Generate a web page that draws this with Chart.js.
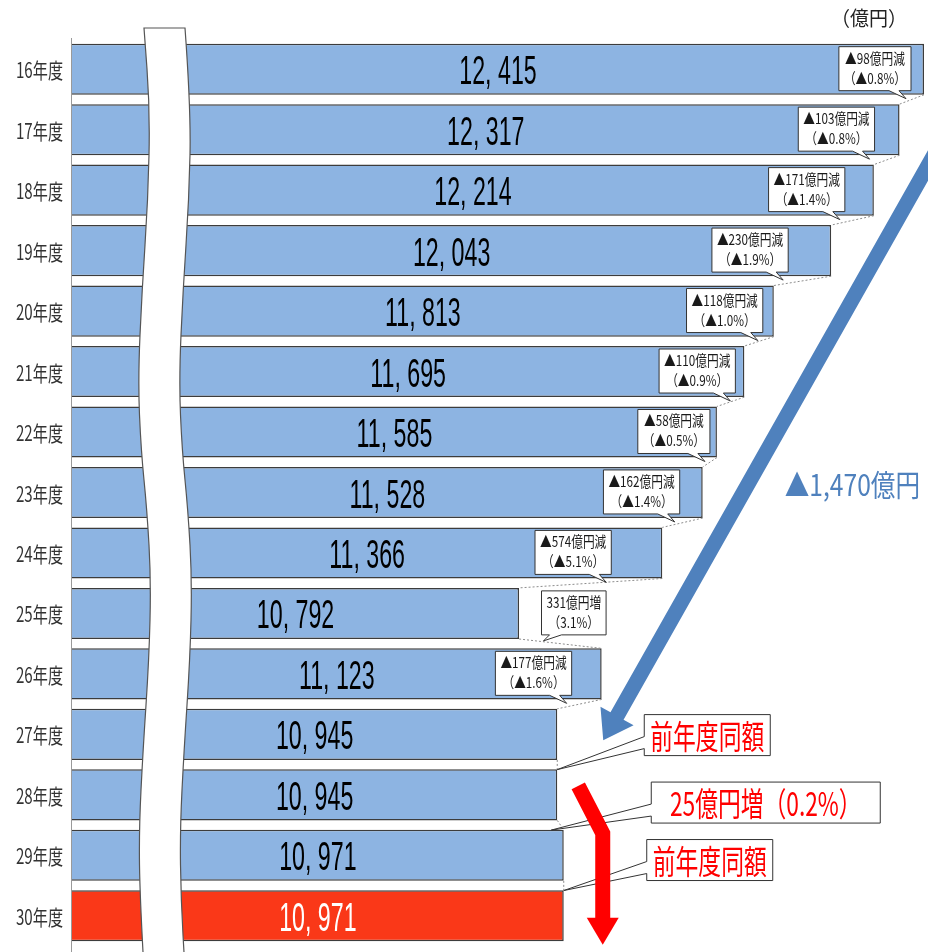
<!DOCTYPE html>
<html>
<head>
<meta charset="utf-8">
<script src="https://cdn.jsdelivr.net/npm/chart.js@4.4.1/dist/chart.umd.min.js"></script>
<style>
html, body { margin: 0; padding: 0; background: #fff; }
#wrap { width: 928px; height: 952px; }
</style>
</head>
<body>
<div id="wrap"><canvas id="budget-chart" width="928" height="952"></canvas></div>
<script>
// data (億円)
var years = ['16年度', '17年度', '18年度', '19年度', '20年度', '21年度', '22年度', '23年度',
             '24年度', '25年度', '26年度', '27年度', '28年度', '29年度', '30年度'];
var budget = [12415, 12317, 12214, 12043, 11813, 11695, 11585, 11528,
              11366, 10792, 11123, 10945, 10945, 10971, 10971];
// change to the following year, shown in the small callouts
var diffAmount = [-98, -103, -171, -230, -118, -110, -58, -162, -574, 331, -177];
var diffPercent = [-0.8, -0.8, -1.4, -1.9, -1.0, -0.9, -0.5, -1.4, -5.1, 3.1, -1.6];
var recentNotes = ['前年度同額', '25億円増（0.2%）', '前年度同額'];
var totalDrop = -1470;
var unitLabel = '（億円）';

// layout only: callout box right inset from bar end, red note box [dx, dy, width]
var boxInset = [13, 25, 29, 43, 11, 9, 7, 23, 51, -87, 30];
var noteLayout = [[87, -50, 126], [94, -43, 229], [83, -46, 126]];

var JP = '"Noto Sans CJK JP", "Noto Sans", sans-serif';
var BLUE = '#8db4e2';
var RED = '#fa3818';

function squeezeText(ctx, text, x, y, font, color, sx, align, baseline) {
    ctx.save();
    ctx.font = font;
    ctx.fillStyle = color;
    ctx.textAlign = align || 'center';
    ctx.textBaseline = baseline || 'alphabetic';
    ctx.translate(x, y);
    ctx.scale(sx, 1);
    ctx.fillText(text, 0, 0);
    ctx.restore();
}

function textWidth(ctx, text, font) {
    ctx.save();
    ctx.font = font;
    var w = ctx.measureText(text).width;
    ctx.restore();
    return w;
}

function fmtValue(v) {
    var s = String(Math.abs(v));
    return s.slice(0, -3) + ', ' + s.slice(-3);
}

function fatArrow(ctx, x0, y0, x1, y1, shaft, headW, headL, color) {
    var dx = x1 - x0, dy = y1 - y0;
    var len = Math.sqrt(dx * dx + dy * dy);
    var ux = dx / len, uy = dy / len;
    var nx = -uy, ny = ux;
    var bx = x1 - ux * headL, by = y1 - uy * headL;
    ctx.save();
    ctx.fillStyle = color;
    ctx.beginPath();
    ctx.moveTo(x0 + nx * shaft / 2, y0 + ny * shaft / 2);
    ctx.lineTo(bx + nx * shaft / 2, by + ny * shaft / 2);
    ctx.lineTo(bx + nx * headW / 2, by + ny * headW / 2);
    ctx.lineTo(x1, y1);
    ctx.lineTo(bx - nx * headW / 2, by - ny * headW / 2);
    ctx.lineTo(bx - nx * shaft / 2, by - ny * shaft / 2);
    ctx.lineTo(x0 - nx * shaft / 2, y0 - ny * shaft / 2);
    ctx.closePath();
    ctx.fill();
    ctx.restore();
}

function smoothEdge(ctx, pts, first) {
    if (first) ctx.moveTo(pts[0][0], pts[0][1]); else ctx.lineTo(pts[0][0], pts[0][1]);
    for (var i = 1; i < pts.length - 1; i++) {
        var mx = (pts[i][0] + pts[i + 1][0]) / 2, my = (pts[i][1] + pts[i + 1][1]) / 2;
        ctx.quadraticCurveTo(pts[i][0], pts[i][1], mx, my);
    }
    ctx.lineTo(pts[pts.length - 1][0], pts[pts.length - 1][1]);
}

var chartLayer = {
    id: 'chartLayer',
    afterDatasetsDraw: function (chart) {
        var ctx = chart.ctx;
        var area = chart.chartArea;
        var bars = chart.getDatasetMeta(0).data;
        var n = bars.length;
        function top(i) { return bars[i].y - bars[i].height / 2; }
        function bottom(i) { return bars[i].y + bars[i].height / 2; }

        // axis line
        ctx.save();
        ctx.strokeStyle = '#9a9a9a';
        ctx.lineWidth = 1;
        ctx.beginPath();
        ctx.moveTo(area.left - 0.5, area.top - 1);
        ctx.lineTo(area.left - 0.5, chart.height);
        ctx.stroke();
        ctx.restore();

        // dotted connectors between bar ends
        ctx.save();
        ctx.strokeStyle = '#8c8c8c';
        ctx.lineWidth = 1;
        ctx.setLineDash([2, 2]);
        for (var i = 0; i < n - 1; i++) {
            ctx.beginPath();
            ctx.moveTo(bars[i].x, bottom(i));
            ctx.lineTo(bars[i + 1].x, top(i + 1));
            ctx.stroke();
        }
        ctx.restore();

        // axis break strip
        var sx = area.left + 72;
        var leftEdge = [[0, 28], [6, 110], [4, 200], [-2, 290], [-6, 380], [-3, 450], [3, 510],
                        [7, 580], [5, 660], [-1, 750], [-5, 830], [-4, 900], [0, 970]];
        var lp = leftEdge.map(function (p) { return [sx + p[0], p[1]]; });
        var rp = leftEdge.map(function (p) { return [sx + p[0] + 41, p[1]]; });
        ctx.save();
        ctx.beginPath();
        smoothEdge(ctx, lp.slice().reverse(), true);
        smoothEdge(ctx, rp, false);
        ctx.closePath();
        ctx.fillStyle = '#fff';
        ctx.fill();
        ctx.strokeStyle = '#555';
        ctx.lineWidth = 1.2;
        ctx.stroke();
        ctx.restore();

        // values inside bars
        for (var i = 0; i < n; i++) {
            squeezeText(ctx, fmtValue(budget[i]), (area.left + bars[i].x) / 2, bars[i].y + 15,
                '40px "Liberation Sans", Arial, sans-serif', i === n - 1 ? '#fff' : '#000', 0.58, 'center');
        }

        // year labels
        for (var i = 0; i < n; i++) {
            squeezeText(ctx, years[i], area.left - 9, bars[i].y + 9, '21px ' + JP, '#333', 0.72, 'right');
        }

        // small change callouts
        var cf = '15px ' + JP, cs = 0.78;
        for (var i = 0; i < diffAmount.length; i++) {
            var amt = diffAmount[i], pct = diffPercent[i];
            var l1 = (amt < 0 ? '▲' : '') + Math.abs(amt) + '億円' + (amt < 0 ? '減' : '増');
            var l2 = '（' + (pct < 0 ? '▲' : '') + Math.abs(pct).toFixed(1) + '%）';
            var w = Math.max(textWidth(ctx, l1, cf), textWidth(ctx, l2, cf)) * cs + 10;
            var r = bars[i].x - boxInset[i], l = r - w;
            var t = top(i) + 3, b = t + 44;
            ctx.save();
            ctx.beginPath();
            ctx.moveTo(l, t);
            ctx.lineTo(r, t);
            ctx.lineTo(r, b);
            if (boxInset[i] >= 0) {
                ctx.lineTo(r - 12, b);
                ctx.lineTo(r - 5, b + 8);
                ctx.lineTo(r - 22, b);
                ctx.lineTo(l, b);
            } else {
                ctx.lineTo(l + 20, b);
                ctx.lineTo(l + 2, b + 6);
                ctx.lineTo(l + 8, b);
                ctx.lineTo(l, b);
            }
            ctx.closePath();
            ctx.fillStyle = '#fff';
            ctx.fill();
            ctx.strokeStyle = '#333';
            ctx.lineWidth = 1;
            ctx.stroke();
            ctx.restore();
            squeezeText(ctx, l1, (l + r) / 2, t + 17, cf, '#1a1a1a', cs, 'center');
            squeezeText(ctx, l2, (l + r) / 2, t + 37, cf, '#1a1a1a', cs, 'center');
        }

        // blue overall arrow
        var tipX = bars[11].x + 46, tipY = bars[11].y + 6;
        fatArrow(ctx, area.right + 14, bars[1].y + 18, tipX, tipY, 15, 38, 28, '#4f81bd');
        squeezeText(ctx, '▲' + Math.abs(totalDrop).toLocaleString('en-US') + '億円', area.right - 4,
            bars[7].y + 3, '30px ' + JP, '#4f81bd', 0.82, 'right');

        // red notes for the last years
        for (var k = 0; k < recentNotes.length; k++) {
            var i = 11 + k;
            var mid = (bottom(i) + top(i + 1)) / 2;
            var px = bars[i].x - (k === 1 ? 6 : 0), py = mid + 5;
            var bl = bars[i].x + noteLayout[k][0], bt = mid + noteLayout[k][1];
            var bw = noteLayout[k][2], bh = 41;
            ctx.save();
            ctx.beginPath();
            ctx.moveTo(bl, bt);
            ctx.lineTo(bl + bw, bt);
            ctx.lineTo(bl + bw, bt + bh);
            ctx.lineTo(bl, bt + bh);
            ctx.lineTo(bl, bt + 34);
            ctx.lineTo(px, py);
            ctx.lineTo(bl, bt + 22);
            ctx.closePath();
            ctx.fillStyle = '#fff';
            ctx.fill();
            ctx.strokeStyle = '#333';
            ctx.lineWidth = 1;
            ctx.stroke();
            ctx.restore();
            squeezeText(ctx, recentNotes[k], bl + bw / 2, bt + bh / 2 + 1, '33px ' + JP, '#ff0000', 0.69, 'center', 'middle');
        }

        // red downward arrow
        var ax = bars[13].x + 39;
        var a0x = bars[11].x + 21, a0y = bars[12].y - 9;
        var bendY = bars[13].y - 22, headY = bars[14].y + 2, endY = bars[14].y + 29;
        ctx.save();
        ctx.strokeStyle = '#ff0000';
        ctx.lineWidth = 15;
        ctx.lineJoin = 'miter';
        ctx.lineCap = 'butt';
        ctx.beginPath();
        ctx.moveTo(a0x, a0y);
        ctx.lineTo(ax, bendY);
        ctx.lineTo(ax, headY + 1);
        ctx.stroke();
        ctx.fillStyle = '#ff0000';
        ctx.beginPath();
        ctx.moveTo(ax - 16, headY);
        ctx.lineTo(ax + 16, headY);
        ctx.lineTo(ax, endY);
        ctx.closePath();
        ctx.fill();
        ctx.restore();

        // unit
        squeezeText(ctx, unitLabel, area.right - 17, 18, '20px ' + JP, '#222', 0.95, 'right', 'middle');
    }
};

var ctx = document.getElementById('budget-chart').getContext('2d');
new Chart(ctx, {
    type: 'bar',
    data: {
        labels: years,
        datasets: [{
            data: budget,
            backgroundColor: budget.map(function (v, i) { return i === budget.length - 1 ? RED : BLUE; }),
            borderColor: '#3c3c3c',
            borderWidth: 1.5,
            barPercentage: 0.845,
            categoryPercentage: 1
        }]
    },
    options: {
        indexAxis: 'y',
        responsive: false,
        animation: false,
        devicePixelRatio: 1,
        layout: { padding: { top: 39, right: 4, bottom: 6, left: 0 } },
        plugins: { legend: { display: false }, tooltip: { enabled: false } },
        scales: {
            x: { display: false, min: 9000, max: 12415 },
            y: {
                ticks: { display: false },
                grid: { display: false },
                border: { display: false },
                afterFit: function (scale) { scale.width = 72; }
            }
        }
    },
    plugins: [chartLayer]
});
</script>
</body>
</html>
